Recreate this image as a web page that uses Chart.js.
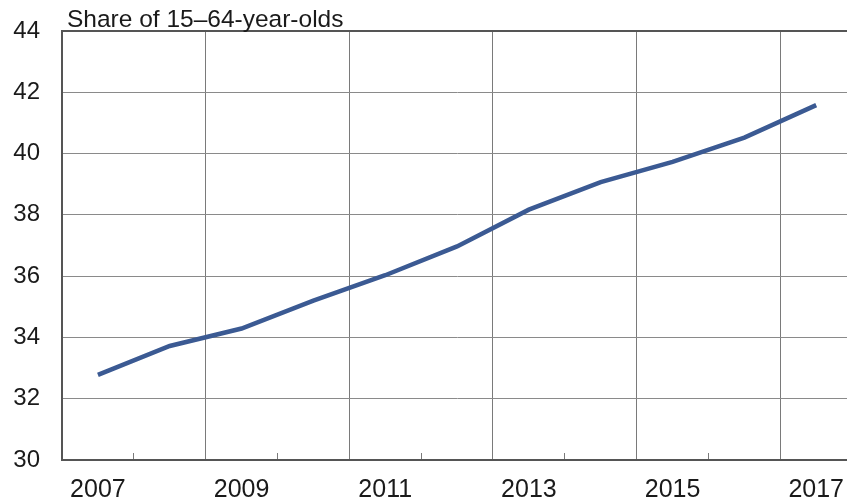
<!DOCTYPE html>
<html>
<head>
<meta charset="utf-8">
<script src="https://cdn.jsdelivr.net/npm/chart.js@4/dist/chart.umd.min.js"></script>
<style>
  html, body { margin: 0; padding: 0; background: #fff; overflow: hidden; width: 847px; height: 501px; }
  #wrap { position: relative; width: 866px; height: 501px; }
</style>
</head>
<body>
<div id="wrap"><canvas id="c"></canvas></div>
<script>
const years = ['2007','2008','2009','2010','2011','2012','2013','2014','2015','2016','2017'];
const shareValues = [32.78, 33.72, 34.29, 35.2, 36.03, 36.97, 38.17, 39.07, 39.73, 40.52, 41.58];
const yTicks = [30, 32, 34, 36, 38, 40, 42, 44];
const captionText = 'Share of 15\u201364-year-olds';

const FONT = "'Liberation Sans', Arial, Helvetica, sans-serif";

const captionPlugin = {
  id: 'caption',
  afterDraw(chart) {
    const { ctx, chartArea } = chart;
    ctx.save();
    ctx.font = '24.5px ' + FONT;
    ctx.fillStyle = '#1a1a1a';
    ctx.textAlign = 'left';
    ctx.textBaseline = 'alphabetic';
    ctx.fillText(captionText, chartArea.left + 5, chartArea.top - 4);
    ctx.restore();
  }
};

new Chart(document.getElementById('c'), {
  type: 'line',
  data: {
    labels: years,
    datasets: [{
      data: shareValues,
      borderColor: '#3b5a93',
      borderWidth: 4.5,
      pointRadius: 0,
      tension: 0,
      fill: false
    }]
  },
  options: {
    responsive: true,
    maintainAspectRatio: false,
    animation: false,
    layout: { padding: { left: 0, top: 31, right: 0, bottom: 0 } },
    plugins: { legend: { display: false }, tooltip: { enabled: false } },
    scales: {
      x: {
        type: 'category',
        offset: true,
        afterFit: (s) => { s.height = 41; },
        grid: {
          offset: true,
          drawTicks: true,
          tickLength: -7,
          color: (c) => (c.index > 0 && c.index % 2 === 0) ? '#7a7a7a' : 'rgba(0,0,0,0)',
          tickColor: '#7a7a7a',
          lineWidth: 1,
          tickWidth: 1
        },
        border: { display: true, color: '#555', width: 2 },
        ticks: {
          autoSkip: false,
          maxRotation: 0,
          padding: 22,
          color: '#1a1a1a',
          font: { family: FONT, size: 25 },
          callback: function (v, i) { return i % 2 === 0 ? this.getLabelForValue(v) : ''; }
        }
      },
      y: {
        min: 30,
        max: 44,
        afterFit: (s) => { s.width = 62; s.paddingTop = 0; s.paddingBottom = 0; },
        afterBuildTicks: (s) => { s.ticks = yTicks.map(v => ({ value: v })); },
        grid: {
          drawTicks: false,
          color: (c) => c.tick && c.tick.value === 44 ? '#555' : '#8a8a8a',
          lineWidth: (c) => c.tick && c.tick.value === 44 ? 2 : 1
        },
        border: { display: true, color: '#555', width: 2 },
        ticks: {
          padding: 22,
          color: '#1a1a1a',
          font: { family: FONT, size: 24 }
        }
      }
    }
  },
  plugins: [captionPlugin]
});
</script>
</body>
</html>
